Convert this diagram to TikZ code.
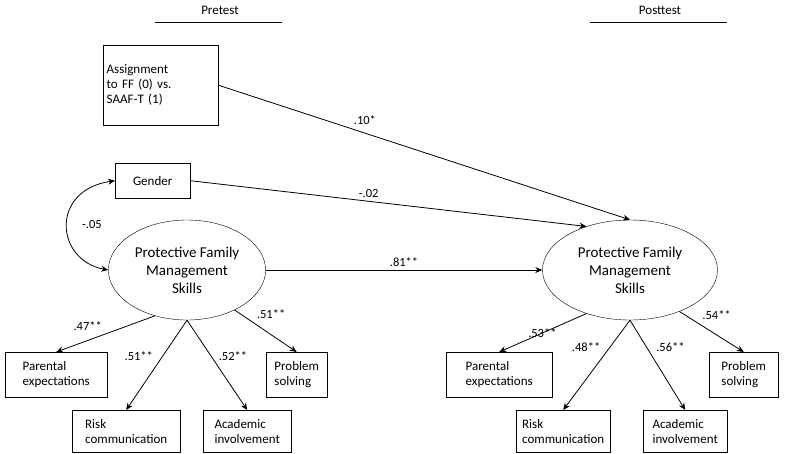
\documentclass[tikz,border=0pt]{standalone}
\usepackage{fontspec}
\setmainfont{Carlito}
\usetikzlibrary{arrows.meta,shapes.geometric}
\begin{document}
\begin{tikzpicture}[x=1pt,y=-1pt,font=\fontsize{13}{15}\selectfont,
 box/.style={draw,align=left,anchor=north west,inner sep=3pt},
 ell/.style={draw,ellipse,minimum width=150pt,minimum height=100pt,align=center,font=\fontsize{15}{18}\selectfont},
 arr/.style={-{Stealth[length=7pt,width=6pt]},thick},
 lab/.style={font=\fontsize{12.5}{14}\selectfont}]
\useasboundingbox (0,0) rectangle (800,453);
\node (pre) at (220,10) {Pretest};
\draw (155,22) -- (282,22);
\node (post) at (660,10) {Posttest};
\draw (590,22) -- (727,22);
\node[box,minimum width=115pt,minimum height=80pt,text width=108pt] (asg) at (103,45) {Assignment\\to FF (0) vs.\\SAAF-T (1)};
\node[box,minimum width=75pt,minimum height=35pt,align=center] (gen) at (115,163) {Gender};
\node[ell] (L) at (187,270) {Protective Family\\Management\\Skills};
\node[ell,minimum width=175pt] (R) at (630,270) {Protective Family\\Management\\Skills};
\draw[arr] (asg.east) -- (R.north) node[lab,pos=0.32,above right]{.10*};
\draw[arr] (gen.east) -- (R.135) node[lab,pos=0.45,above]{-.02};
\draw[arr,{Stealth[length=7pt,width=6pt]}-{Stealth[length=7pt,width=6pt]}] (gen.west) .. controls (50,190) and (55,260) .. (L.west);
\node[lab] (c) at (92,224) {-.05};
\draw[arr] (L.east) -- (R.west) node[lab,midway,above]{.81**};
% left indicators
\node[box,minimum width=102pt,minimum height=45pt] (lp) at (5,352) {Parental\\expectations};
\node[box,minimum width=108pt,minimum height=42pt] (lr) at (72,410) {Risk\\communication};
\node[box,minimum width=88pt,minimum height=42pt] (la) at (203,410) {Academic\\involvement};
\node[box,minimum width=61pt,minimum height=45pt] (ls) at (266,352) {Problem\\solving};
\draw[arr] (L.235) -- (lp.north) node[lab,pos=0.5,above left]{.47**};
\draw[arr] (L.south) -- (lr.north) node[lab,pos=0.4,left=6pt]{.51**};
\draw[arr] (L.south) -- (la.north) node[lab,pos=0.4,right=4pt]{.52**};
\draw[arr] (L.-40) -- (ls.north) node[lab,pos=0.3,above right]{.51**};
% right indicators
\node[box,minimum width=106pt,minimum height=45pt] (rp) at (446,352) {Parental\\expectations};
\node[box,minimum width=94pt,minimum height=42pt] (rr) at (516,410) {Risk\\communication};
\node[box,minimum width=84pt,minimum height=42pt] (ra) at (643,410) {Academic\\involvement};
\node[box,minimum width=69pt,minimum height=45pt] (rs) at (709,352) {Problem\\solving};
\draw[arr] (R.225) -- (rp.north) node[lab,pos=0.3,below left]{.53**};
\draw[arr] (R.south) -- (rr.north) node[lab,pos=0.3,left=6pt]{.48**};
\draw[arr] (R.south) -- (ra.north) node[lab,pos=0.3,right=6pt]{.56**};
\draw[arr] (R.-40) -- (rs.north) node[lab,pos=0.3,above right]{.54**};
\end{tikzpicture}
\end{document}
